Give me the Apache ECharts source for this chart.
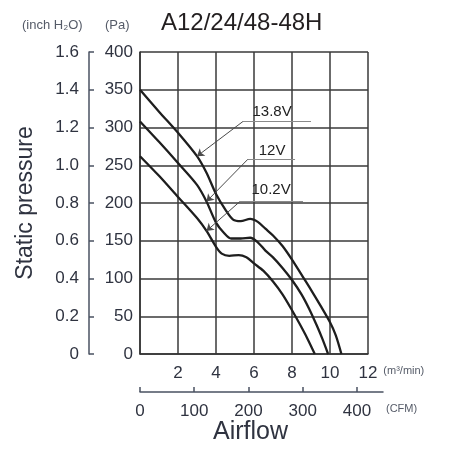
<!DOCTYPE html>
<html>
<head>
<meta charset="utf-8">
<script src="https://cdn.jsdelivr.net/npm/echarts@6/dist/echarts.min.js"></script>
<style>
html,body{margin:0;padding:0;background:#fff;}
#chart{width:458px;height:449px;}
</style>
</head>
<body>
<div id="chart"></div>
<script>
// ---- data (airflow in m3/min, static pressure in Pa) ----
const seriesNames = ['13.8V', '12V', '10.2V'];
const flow138 = [0, 1, 2, 3, 3.5, 4, 4.5, 4.9, 5.3, 5.8, 6.2, 6.6, 7, 7.5, 8, 8.5, 9, 9.5, 10, 10.3, 10.6];
const pa138   = [350, 321, 293, 262, 240, 212, 191, 178, 176, 179, 175, 166, 157, 143, 125, 105, 85, 64, 42, 25, 0];
const flow120 = [0, 1, 2, 3, 3.5, 4, 4.4, 4.8, 5.3, 5.8, 6.2, 6.6, 7, 7.5, 8, 8.5, 8.9, 9.3, 9.6, 9.9];
const pa120   = [308, 281, 253, 224, 202, 174, 161, 153, 153, 154, 148, 137, 128, 114, 98, 79, 60, 38, 20, 0];
const flow102 = [0, 1, 2, 3, 3.5, 4, 4.3, 4.7, 5.2, 5.6, 6, 6.5, 7, 7.5, 8, 8.4, 8.8, 9.2];
const pa102   = [262, 236, 208, 180, 163, 142, 133, 130, 131, 128, 120, 110, 96, 79, 58, 40, 21, 0];

// tick labels
const m3Ticks = [0, 2, 4, 6, 8, 10, 12];
const cfmTicks = [0, 100, 200, 300, 400];
const paTicks = [0, 50, 100, 150, 200, 250, 300, 350, 400];
const inchTicks = [0, 0.2, 0.4, 0.6, 0.8, 1.0, 1.2, 1.4, 1.6];

// annotation anchors (data coordinates)
const annoText = [[6.95, 321], [6.95, 269], [6.9, 217]];
const annoLineStart = [[5.42, 308], [5.68, 258], [5.26, 202]];
const annoLineEnd = [[9.0, 308], [8.16, 258], [8.58, 202]];
const annoTargetIdx = [3, 4, 4];

const flows = [flow138, flow120, flow102];
const pas = [pa138, pa120, pa102];

const txt = '#2f3340';
const fontF = "'Liberation Sans', Arial, sans-serif";

const chart = echarts.init(document.getElementById('chart'), null, {renderer: 'canvas'});

const series = seriesNames.map((name, i) => {
  const data = flows[i].map((x, k) => [x, pas[i][k]]);
  const tgt = data[annoTargetIdx[i]];
  return {
    name: name,
    type: 'line',
    xAxisIndex: 0,
    yAxisIndex: 0,
    data: data,
    smooth: 0.3,
    showSymbol: false,
    silent: true,
    lineStyle: {color: '#1e1e1e', width: 2.3},
    markLine: {
      silent: true,
      animation: false,
      label: {show: false},
      data: [
        [{coord: annoLineStart[i], symbol: 'none', lineStyle: {color: '#8a8a8a', width: 1.2, type: 'solid'}},
         {coord: annoLineEnd[i], symbol: 'none'}],
        [{coord: annoLineStart[i], symbol: 'none', lineStyle: {color: '#4a4a4a', width: 1, type: 'solid'}},
         {coord: tgt, symbol: 'arrow', symbolSize: 7}]
      ]
    },
    markPoint: {
      silent: true,
      animation: false,
      symbol: 'circle',
      symbolSize: 1,
      itemStyle: {color: 'rgba(0,0,0,0)'},
      label: {show: true, position: 'inside', formatter: '{b}', color: '#222', fontSize: 15, fontFamily: fontF},
      data: [{name: name, coord: annoText[i]}]
    }
  };
});

const option = {
  animation: false,
  backgroundColor: '#fff',
  title: [
    {text: 'A12/24/48-48H', left: 161, top: 11, padding: 0,
     textStyle: {fontSize: 24, fontWeight: 'normal', color: '#231f20', fontFamily: fontF}},
    {text: '(inch H₂O)', left: 22, top: 19, padding: 0,
     textStyle: {fontSize: 13, fontWeight: 'normal', color: '#555b68', fontFamily: fontF}},
    {text: '(Pa)', left: 105, top: 19, padding: 0,
     textStyle: {fontSize: 13, fontWeight: 'normal', color: '#555b68', fontFamily: fontF}},
    {text: 'Airflow', left: 213, top: 420, padding: 0,
     textStyle: {fontSize: 25, fontWeight: 'normal', color: txt, fontFamily: fontF}}
  ],
  grid: [
    {left: 140, top: 52, width: 228, height: 302, containLabel: false},
    {left: 140, top: 391, width: 243, height: 1, containLabel: false}
  ],
  xAxis: [
    {
      type: 'value', gridIndex: 0, min: m3Ticks[0], max: m3Ticks[m3Ticks.length - 1], interval: 2,
      axisLine: {show: true, lineStyle: {color: '#333', width: 1.5}},
      axisTick: {show: false},
      axisLabel: {margin: 11, color: txt, fontSize: 17, fontFamily: fontF,
        formatter: v => (v === 0 ? '' : String(v))},
      splitLine: {show: true, lineStyle: {color: '#3a3a3a', width: 1.5}},
      name: '(m³/min)', nameLocation: 'end', nameGap: 15,
      nameTextStyle: {fontSize: 11, color: '#555b68', fontFamily: fontF, verticalAlign: 'top', align: 'left', padding: [11, 0, 0, 0]}
    },
    {
      type: 'value', gridIndex: 1, min: 0, max: 448,
      axisLine: {show: true, lineStyle: {color: '#4a5262', width: 1.5}},
      axisTick: {show: true, inside: true, length: 5, customValues: cfmTicks, lineStyle: {color: '#4a5262', width: 1.5}},
      axisLabel: {margin: 11, color: txt, fontSize: 17, fontFamily: fontF, customValues: cfmTicks},
      splitLine: {show: false},
      name: '(CFM)', nameLocation: 'end', nameGap: 3,
      nameTextStyle: {fontSize: 11, color: '#555b68', fontFamily: fontF, verticalAlign: 'top', align: 'left', padding: [11, 0, 0, 0]}
    }
  ],
  yAxis: [
    {
      type: 'value', gridIndex: 0, min: paTicks[0], max: paTicks[paTicks.length - 1], interval: 50,
      axisLine: {show: true, lineStyle: {color: '#333', width: 1.5}},
      axisTick: {show: false},
      axisLabel: {margin: 7, color: txt, fontSize: 17, fontFamily: fontF},
      splitLine: {show: true, lineStyle: {color: '#3a3a3a', width: 1.5}}
    },
    {
      type: 'value', gridIndex: 0, position: 'left', offset: 51,
      min: inchTicks[0], max: inchTicks[inchTicks.length - 1], interval: 0.2,
      axisLine: {show: true, lineStyle: {color: '#4a5262', width: 1.5}},
      axisTick: {show: true, inside: true, length: 5, lineStyle: {color: '#4a5262', width: 1.5}},
      axisLabel: {margin: 10, color: txt, fontSize: 17, fontFamily: fontF,
        formatter: v => (v === 0 ? '0' : v.toFixed(1))},
      splitLine: {show: false},
      name: 'Static pressure', nameLocation: 'middle', nameGap: 52, nameRotate: 90,
      nameTextStyle: {fontSize: 23, color: txt, fontFamily: fontF}
    },
    {type: 'value', gridIndex: 1, show: false, min: 0, max: 1}
  ],
  series: series
};

chart.setOption(option);
</script>
</body>
</html>
